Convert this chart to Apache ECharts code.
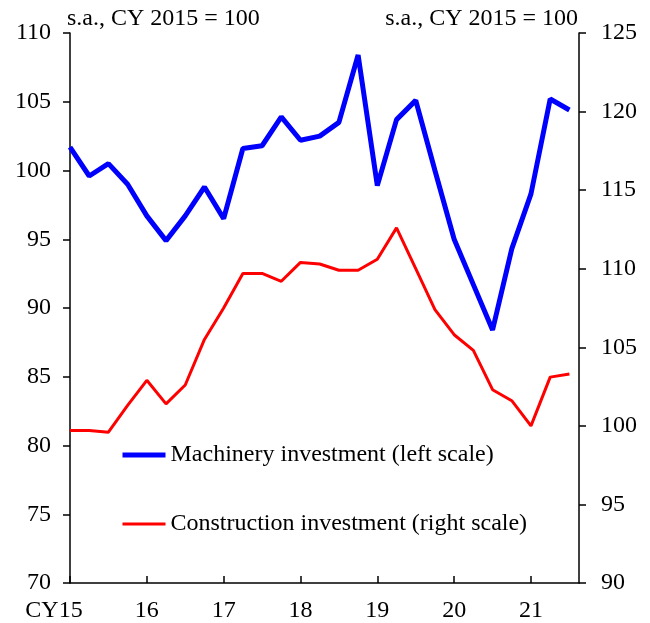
<!DOCTYPE html>
<html>
<head>
<meta charset="utf-8">
<script src="https://cdn.jsdelivr.net/npm/echarts@6/dist/echarts.min.js"></script>
<style>
  html, body { margin: 0; padding: 0; background: #fff; }
  #chart { width: 650px; height: 623px; }
</style>
</head>
<body>
<div id="chart"></div>
<script>
// Quarterly, 2015Q1 .. 2021Q3
const quarters = [
    "15Q1", "15Q2", "15Q3", "15Q4", "16Q1", "16Q2", "16Q3", "16Q4",
    "17Q1", "17Q2", "17Q3", "17Q4", "18Q1", "18Q2", "18Q3", "18Q4",
    "19Q1", "19Q2", "19Q3", "19Q4", "20Q1", "20Q2", "20Q3", "20Q4",
    "21Q1", "21Q2", "21Q3"
];
const yearLabels = ["15", "16", "17", "18", "19", "20", "21"];

const machinery = [
    101.7, 99.6, 100.5, 99.0, 96.7, 94.9, 96.7, 98.8,
    96.5, 101.6, 101.8, 103.9, 102.2, 102.5, 103.5, 108.4,
    98.9, 103.7, 105.1, 100.0, 95.0, 91.7, 88.4, 94.3,
    98.3, 105.2, 104.4
];
const construction = [
    99.7, 99.7, 99.6, 101.3, 102.9, 101.4, 102.6, 105.5,
    107.5, 109.7, 109.7, 109.2, 110.4, 110.3, 109.9, 109.9,
    110.6, 112.6, 110.0, 107.4, 105.8, 104.8, 102.3, 101.6,
    100.0, 103.1, 103.3
];

const FONT = "'Liberation Serif', 'DejaVu Serif', serif";
const FS = 24;

const chart = echarts.init(document.getElementById("chart"), null, { renderer: "canvas" });

const axisLine = { show: true, lineStyle: { color: "#000", width: 1.5 } };
const axisTick = (inside) => ({
    show: true, inside, length: 7, lineStyle: { color: "#000", width: 1.5 }
});

chart.setOption({
    backgroundColor: "#fff",
    animation: false,
    textStyle: { fontFamily: FONT, color: "#000" },
    title: [
        {
            text: "s.a., CY 2015 = 100", left: 62, top: 2,
            textStyle: { fontFamily: FONT, fontSize: FS, fontWeight: "normal", color: "#000" }
        },
        {
            text: "s.a., CY 2015 = 100", right: 67, top: 2,
            textStyle: { fontFamily: FONT, fontSize: FS, fontWeight: "normal", color: "#000" }
        }
    ],
    legend: {
        orient: "vertical",
        left: 115,
        top: 438,
        itemWidth: 43,
        itemHeight: 14,
        itemGap: 45,
        itemStyle: { color: "rgba(0,0,0,0)", borderWidth: 0 },
        textStyle: { fontFamily: FONT, fontSize: FS, color: "#000" },
        data: [
            { name: "Machinery investment (left scale)", lineStyle: { width: 5 } },
            { name: "Construction investment (right scale)", lineStyle: { width: 3 } }
        ]
    },
    grid: { left: 70, right: 71, top: 33, bottom: 39 },
    xAxis: {
        type: "value",
        min: 0,
        max: 26.5,
        interval: 4,
        axisLine,
        axisTick: axisTick(true),
        splitLine: { show: false },
        axisLabel: {
            margin: 16,
            fontFamily: FONT,
            fontSize: FS,
            color: "#000",
            showMaxLabel: false,
            formatter: (v) => {
                const lab = yearLabels[v / 4];
                if (lab === undefined) return "";
                return v === 0 ? "{cy|CY}" + lab + "{pad|}" : lab;
            },
            rich: {
                cy: { fontFamily: FONT, fontSize: FS, color: "#000" },
                pad: { width: 32 }
            }
        }
    },
    yAxis: [
        {
            type: "value", min: 70, max: 110, interval: 5, position: "left",
            axisLine, axisTick: axisTick(false), splitLine: { show: false },
            axisLabel: { margin: 19, fontFamily: FONT, fontSize: FS, color: "#000" }
        },
        {
            type: "value", min: 90, max: 125, interval: 5, position: "right",
            axisLine, axisTick: axisTick(false), splitLine: { show: false },
            axisLabel: { margin: 22, fontFamily: FONT, fontSize: FS, color: "#000" }
        }
    ],
    series: [
        {
            name: "Machinery investment (left scale)",
            type: "line",
            yAxisIndex: 0,
            symbol: "none",
            lineStyle: { color: "#0000ff", width: 5 },
            itemStyle: { color: "#0000ff" },
            data: machinery.map((v, i) => [i, v])
        },
        {
            name: "Construction investment (right scale)",
            type: "line",
            yAxisIndex: 1,
            symbol: "none",
            lineStyle: { color: "#ff0000", width: 3 },
            itemStyle: { color: "#ff0000" },
            data: construction.map((v, i) => [i, v])
        }
    ]
});
</script>
</body>
</html>
